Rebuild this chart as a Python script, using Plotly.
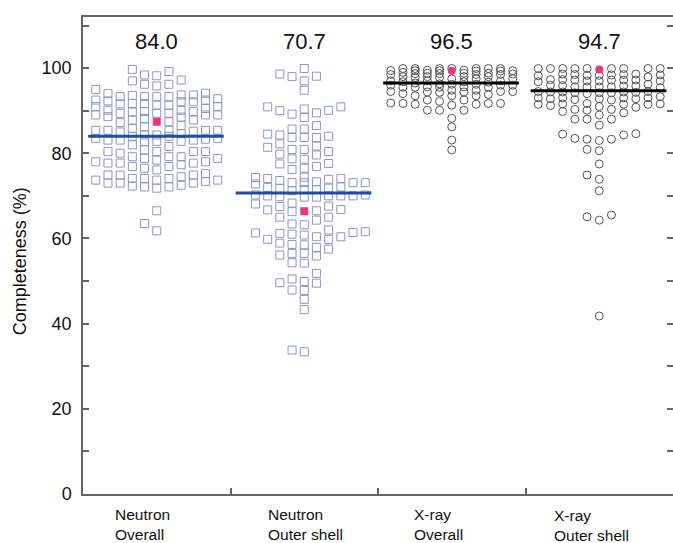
import plotly.graph_objects as go

# ---------------- data ----------------
categories = ["Neutron<br>Overall", "Neutron<br>Outer shell", "X-ray<br>Overall", "X-ray<br>Outer shell"]
means = [84.0, 70.7, 96.5, 94.7]
mean_labels = ["84.0", "70.7", "96.5", "94.7"]
highlight = [87.4, 66.4, 99.4, 99.7]
y_title = "Completeness (%)"

neutron_overall = [
    87.2, 83.3, 78.0,
    99.7, 95.0, 93.6, 92.3, 91.0, 89.7, 88.5, 86.5, 85.4, 84.0, 82.8, 80.4, 77.7, 74.9, 73.7, 73.0,
    98.4, 94.0, 92.8, 91.6, 89.4, 85.8, 84.6, 82.8, 80.0, 77.7, 74.9, 73.4,
    97.2, 93.7, 92.5, 91.0, 89.4, 88.2, 85.4, 84.0, 82.0, 79.2, 76.9, 74.1, 72.5,
    96.2, 93.3, 92.1, 89.8, 87.8, 85.4, 83.5, 80.8, 78.8, 76.5, 74.1, 72.1, 63.5,
    96.2, 93.3, 91.3, 90.1, 89.0, 85.4, 83.5, 80.4, 78.4, 76.1, 73.7, 71.8, 66.5, 61.8,
    97.0, 93.3, 91.7, 90.1, 89.0, 87.8, 84.3, 83.1, 81.6, 78.8, 76.9, 73.7, 72.3,
    98.2, 93.3, 91.7, 89.8, 88.6, 85.4, 83.1, 79.2, 77.3, 74.1, 72.1,
    99.2, 93.7, 92.1, 90.5, 89.0, 86.2, 84.3, 82.8, 79.2, 77.7, 74.5, 73.0,
    94.1, 92.5, 91.3, 89.4, 87.4, 85.0, 83.1, 80.4, 78.0, 74.9, 73.0,
    95.8, 85.2, 80.4, 75.2,
]

neutron_outer = [
    99.9, 98.6, 98.1, 98.0, 97.0, 94.8,
    90.9, 90.1, 89.5, 88.4, 89.2, 90.0, 90.4, 90.9,
    86.5, 85.7, 84.3, 83.7, 83.7, 83.7, 84.0, 84.5, 85.7,
    82.2, 81.4, 80.9, 79.8, 79.6, 80.4, 80.9, 81.7,
    78.6, 77.6, 76.5, 76.2, 76.9, 77.5, 78.7,
    74.3, 73.1, 70.2, 74.1, 72.8, 70.2, 73.6, 72.0, 70.0, 73.3, 71.5, 69.7, 73.1, 71.5, 69.7,
    73.1, 71.8, 70.0, 73.1, 71.8, 70.0, 74.1, 72.1, 70.0, 73.9, 71.2, 74.4, 69.8,
    68.3, 67.6, 66.8, 66.5, 66.3, 66.7, 65.0, 67.5, 68.1,
    65.0, 64.3, 63.2, 63.4, 62.0,
    61.4, 61.2, 60.8, 60.4, 59.8, 59.8, 60.4, 61.0, 61.3, 61.6,
    58.9, 58.5, 57.5, 56.5, 54.3, 55.9, 56.1, 54.2, 56.5, 57.9, 58.6,
    51.8, 50.5, 49.6, 47.9, 47.8, 49.5, 49.9, 45.7, 43.3,
    33.8, 33.4,
]

xray_overall = [
    98.6, 96.2, 95.5, 92.2,
    99.9, 99.0, 98.0, 96.7, 95.5, 93.8, 91.7,
    99.9, 99.3, 98.5, 97.5, 96.0, 94.5, 93.5, 91.5,
    99.9, 99.4, 98.8, 98.0, 97.0, 96.0, 94.5, 93.5, 91.3,
    99.9, 99.4, 98.8, 98.0, 97.0, 95.5, 94.0, 92.5, 90.1, 83.1,
    98.8, 98.0, 97.0, 96.0, 94.8, 93.5, 92.5, 90.1, 86.2, 80.8,
    99.9, 99.3, 98.5, 97.5, 96.3, 94.8, 91.5, 90.1, 88.2,
    99.9, 99.4, 98.7, 97.8, 96.8, 95.6, 94.4, 91.7,
    99.9, 99.4, 98.7, 97.8, 96.8, 95.6, 94.4, 91.8,
    99.5, 98.5, 97.5, 96.5, 95.5, 94.5, 91.7,
    99.5, 96.2, 94.3,
]

xray_outer = [
    97.9, 96.2, 92.8,
    99.9, 98.3, 97.2, 95.6, 94.4, 93.3, 91.7, 90.3,
    99.9, 98.3, 97.0, 95.6, 94.2, 92.8, 91.5, 90.1, 83.3,
    99.9, 98.5, 97.2, 95.8, 94.4, 93.0, 91.5, 89.5, 86.6, 83.3,
    99.9, 98.6, 97.3, 96.0, 94.5, 93.0, 91.6, 88.0, 84.3, 80.9, 73.9, 65.1,
    98.4, 97.0, 95.6, 94.2, 92.6, 91.0, 88.0, 83.5, 80.6, 74.9, 71.2, 64.3, 41.8,
    99.9, 98.5, 97.2, 95.8, 94.4, 93.0, 91.5, 88.0, 84.5, 77.5, 65.5,
    99.9, 98.6, 97.3, 95.9, 94.5, 93.0, 91.6, 89.0, 84.6, 83.0,
    99.9, 98.4, 97.0, 95.6, 94.2, 92.8, 91.2, 89.8,
    99.9, 98.2, 96.8, 95.4, 94.0, 92.5, 90.3,
    99.9, 97.2, 94.3, 90.8,
]

series = [neutron_overall, neutron_outer, xray_overall, xray_outer]

# ---------------- layout helpers ----------------
COL_STEP = 0.0827          # horizontal spacing of swarm columns (category units)
SQUARE_COLOR = "#8c96ca"
CIRCLE_COLOR = "#555555"
PINK = "#e8387e"


def swarm_offsets(values, seed, d, cols):
    """Greedy column beeswarm: each point goes to the most central column
    where it keeps at least d (data units) from the points already there;
    otherwise to the column where its nearest neighbour is farthest."""
    placed = {c: [] for c in cols}
    placed[0].append(seed)
    order = sorted(range(len(values)), key=lambda k: values[k])
    offs = [0] * len(values)
    for k in order:
        v = values[k]
        chosen = None
        for c in cols:
            if all(abs(v - y) >= d for y in placed[c]):
                chosen = c
                break
        if chosen is None:
            best = -1.0
            for c in cols:
                m = min(abs(v - y) for y in placed[c])
                if m > best + 1e-9:
                    best = m
                    chosen = c
        placed[chosen].append(v)
        offs[k] = chosen
    return offs


col_sets = [
    [0, -1, 1, -2, 2, -3, 3, -4, 4, -5, 5],
    [0, -1, 1, -2, 2, -3, 3, -4, 4, 5],
    [0, -1, 1, -2, 2, -3, 3, -4, 4, -5, 5],
    [0, -1, 1, -2, 2, -3, 3, -4, 4, -5, 5],
]
min_gap = [2.0, 2.0, 1.9, 1.9]

fig = go.Figure()

for i, vals in enumerate(series):
    offs = swarm_offsets(vals, highlight[i], min_gap[i], col_sets[i])
    is_neutron = i < 2
    col = SQUARE_COLOR if is_neutron else CIRCLE_COLOR
    fig.add_trace(go.Scatter(
        x=[i + o * COL_STEP for o in offs], y=vals, mode="markers",
        marker=dict(symbol="square-open" if is_neutron else "circle-open",
                    size=8, color=col, line=dict(width=1, color=col)),
        hoverinfo="y", showlegend=False))
    fig.add_trace(go.Scatter(
        x=[i], y=[highlight[i]], mode="markers",
        marker=dict(symbol="square" if is_neutron else "circle", size=8, color=PINK,
                    line=dict(width=0)),
        showlegend=False))
    fig.add_trace(go.Scatter(
        x=[i - 0.465, i + 0.455], y=[means[i], means[i]], mode="lines",
        line=dict(color="#1f4e9e" if is_neutron else "#000000", width=3),
        showlegend=False, hoverinfo="skip"))

annotations = []
for i, lab in enumerate(mean_labels):
    annotations.append(dict(x=i, y=106.2, xref="x", yref="y", text=lab, showarrow=False,
                            font=dict(size=22, color="#111111"), xanchor="center", yanchor="middle"))

label_dx = [-0.30, -0.26, -0.27, -0.32]
label_dy = [-10, -10, -10, -11]
for i, lab in enumerate(categories):
    annotations.append(dict(x=i + label_dx[i], y=0, xref="x", yref="paper", text=lab,
                            showarrow=False, align="left", xanchor="left", yanchor="top",
                            yshift=label_dy[i], font=dict(size=15.5, color="#111111")))

# vertical axis title
annotations.append(dict(x=0, y=0.488, xref="paper", yref="paper", xshift=-63, text=y_title,
                        textangle=-90, showarrow=False, xanchor="center", yanchor="middle",
                        font=dict(size=18, color="#111111")))

fig.update_layout(
    width=673, height=543,
    margin=dict(l=83, r=0, t=17, b=49, autoexpand=False),
    paper_bgcolor="white", plot_bgcolor="white",
    font=dict(family="Liberation Sans, Arial, sans-serif", color="#111111"),
    annotations=annotations,
    xaxis=dict(range=[-0.5, 3.5], tickvals=[0.5, 1.5, 2.5], ticks="inside", ticklen=6,
               tickcolor="#666666", tickwidth=1.5, showticklabels=False,
               showline=True, linecolor="#666666", linewidth=1.5, mirror=True,
               showgrid=False, zeroline=False),
    yaxis=dict(range=[0, 112], tickvals=list(range(0, 111, 10)),
               ticktext=[str(v) if v % 20 == 0 and v <= 100 else "" for v in range(0, 111, 10)],
               ticks="inside", ticklen=6, tickcolor="#666666", tickwidth=1.5,
               tickfont=dict(size=18, color="#111111"), ticklabelstandoff=6,
               showline=True, linecolor="#666666", linewidth=1.5, mirror="ticks",
               showgrid=False, zeroline=False),
)

fig.write_html(
    "out.html",
    config={"displayModeBar": False},
    post_script="document.body.style.margin='0';document.body.style.overflow='hidden';",
)
